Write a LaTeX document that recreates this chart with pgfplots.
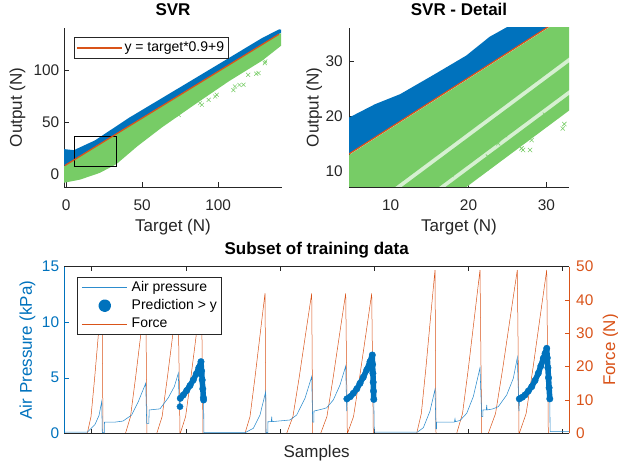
\documentclass[border=0pt]{standalone}
\usepackage{fontspec}
\setmainfont{Liberation Sans}
\usepackage{pgfplots}
\pgfplotsset{compat=1.18}

\definecolor{mblue}{RGB}{0,114,189}
\definecolor{airblue}{RGB}{45,140,205}
\definecolor{morange}{RGB}{217,83,25}
\definecolor{mgreen}{RGB}{119,204,102}
\definecolor{axgray}{RGB}{38,38,38}

\pgfplotsset{
  mat/.style={
    scale only axis, anchor=south west,
    tick align=inside, major tick length=4.5pt,
    axis line style={axgray, line width=0.5pt, -},
    tick style={axgray, line width=0.5pt},
    tick label style={font=\fontsize{15.4}{18}\selectfont, text=axgray},
    label style={font=\fontsize{17}{20}\selectfont, text=axgray},
    title style={font=\bfseries\fontsize{17}{20}\selectfont, text=black},
    /pgf/number format/assume math mode=true,
    legend image code/.code={\draw[##1] (0pt,0pt) -- (45pt,0pt);},
    legend style={font=\fontsize{14}{16}\selectfont, draw=axgray,
      fill=white, inner xsep=2pt, inner ysep=2pt, row sep=1pt,
      nodes={inner sep=2pt, text height=10.2pt, text depth=3pt}},
    legend cell align=left,
  }
}

\begin{document}
\begin{tikzpicture}
\useasboundingbox (0,0) rectangle (618pt,465pt);

% ---------------- SVR (overview) ----------------
\begin{axis}[mat, at={(64pt,278pt)}, width=218pt, height=159pt,
  xmin=-1.5, xmax=142, ymin=-12.6, ymax=141,
  axis x line*=bottom, axis y line*=left,
  xtick={0,50,100}, ytick={0,50,100},
  x tick label style={anchor=north, inner sep=0pt, yshift=-12.5pt},
  y tick label style={anchor=east, inner sep=0pt, xshift=-4.5pt},
  title={SVR}, title style={at={(0.5,1.0767)}, anchor=center},
  xlabel={Target (N)}, xlabel style={at={(0.5,-0.2547)}, anchor=center},
  ylabel={Output (N)}, ylabel style={at={(-0.2133,0.5)}, anchor=center},
  legend style={at={(0.0459,0.9415)}, anchor=north west}]
  % green cloud (output below the line)
  \addplot[fill=mgreen, draw=none, forget plot] coordinates {
    (-1.5,7.4) (141.5,136.1) (141.5,124) (129,109.5) (107,89.5) (85,67.5)
    (63,45) (47,27) (33,9.5) (22,1) (9,-5.5) (-1.5,-8.5)};
  % blue cloud (output above the line)
  \addplot[fill=mblue, draw=none, forget plot] coordinates {
    (-1.5,7.9) (141.5,136.6) (141.5,139.5) (140,139.6) (129,131.4) (107,112)
    (85,92.6) (63,73.3) (41,54) (19,32.5) (5,23) (-1.5,24)};
  \addplot[only marks, mark=x, mark size=2.8pt, mgreen, line width=0.5pt, forget plot] coordinates {
    (74,57) (88,68.4) (89.3,66.8) (93.7,71.6) (98,74.8) (99,76.5) (110,81)
    (111,84.5) (114,86) (116.7,86.2) (119.7,95.8) (125,96.8) (126.6,97.5)
    (130.7,107) (131,108.7)};
  \addplot[black, line width=0.6pt, forget plot] coordinates {
    (5,7.2) (33,7.2) (33,36) (5,36) (5,7.2)};
  \addplot[morange, line width=1.3pt] coordinates {(-1,8.1) (140,135)};
  \addlegendentry{y = target*0.9+9}
\end{axis}

% ---------------- SVR - Detail ----------------
\begin{axis}[mat, at={(349pt,278pt)}, width=220pt, height=159pt,
  xmin=4.65, xmax=32.9, ymin=7.2, ymax=36,
  axis x line*=bottom, axis y line*=left,
  xtick={10,20,30}, ytick={10,20,30},
  x tick label style={anchor=north, inner sep=0pt, yshift=-12.5pt},
  y tick label style={anchor=east, inner sep=0pt, xshift=-6pt},
  title={SVR - Detail}, title style={at={(0.5,1.0767)}, anchor=center},
  xlabel={Target (N)}, xlabel style={at={(0.5,-0.2547)}, anchor=center},
  ylabel={Output (N)}, ylabel style={at={(-0.158,0.5)}, anchor=center}]
  % sparse zone between the bands
  \addplot[fill=mgreen!30!white, draw=none] coordinates {(4,0.3) (34,31.8) (34,22.2) (4,-9.3)};
  % green bands
  \addplot[fill=mgreen, draw=none] coordinates {(4,12.4) (34,39.4) (34,31.8) (4,0.3)};
  \addplot[fill=mgreen, draw=none] coordinates {(4,-0.6) (34,30.9) (34,25.9) (4,-5.6)};
  \addplot[fill=mgreen, draw=none] coordinates {(4,-6.5) (34,25.0) (34,22.2) (4,-9.3)};
  % blue band
  \addplot[fill=mblue, draw=none] coordinates {
    (4,12.6) (34,39.6) (34,40) (30,40) (26,37) (22.7,34.4) (19.7,31)
    (15.5,27.5) (11.2,24) (8,22.2) (4,19.3)};
  \addplot[only marks, mark=x, mark size=3pt, mgreen, line width=0.6pt] coordinates {
    (32.1,17.8) (31.7,20.9) (32.3,18.6) (29.8,20.3) (29.6,18.4) (28.1,15.7)
    (27,13.9) (27.9,13.9) (26.8,14.2) (26.4,18.8) (24.7,16.6) (24.9,13.6)
    (24,13) (23.8,15.1) (23.4,11.8) (22.5,12.7) (22.3,10.6) (22.1,10.9)
    (20.8,10) (20.8,9.1) (20.2,12.1) (19.1,8.2) (17.8,9.4) (16.7,8.5)};
  \addplot[morange, line width=1.3pt] coordinates {(4,12.6) (34,39.6)};
\end{axis}

% ---------------- Subset of training data: right axis (force) ----------------
\begin{axis}[mat, at={(64.3pt,31.7pt)}, width=504.7pt, height=166.6pt,
  xmin=0, xmax=5047, ymin=0, ymax=50,
  axis y line*=right, axis x line=none,
  ytick={0,10,...,50},
  y axis line style={morange}, ytick style={morange},
  y tick label style={text=morange, anchor=west, inner sep=0pt, xshift=7pt},
  ylabel={Force (N)}, ylabel style={text=morange, at={(1.0828,0.5)}, anchor=center}]
  \addplot[morange, line width=0.5pt] coordinates {
    (0,0) (230,0) (267,5) (304,16.8) (340,29.4) (377,42) (387,0)
    (612,0) (662,5) (713,16.8) (764,29.4) (814,42) (827,0)
    (925,0) (978,5) (1031,16.8) (1084,29.4) (1137,42) (1157,0)
    (1160,0) (1213,5) (1266,16.8) (1319,29.4) (1372,42) (1387,0)
    (1807,0) (1857,5) (1907,16.8) (1957,29.4) (2007,42) (2017,0)
    (2224,0) (2286,5) (2349,16.8) (2411,29.4) (2474,42) (2484,0)
    (2564,0) (2626,5) (2689,16.8) (2751,29.4) (2814,42) (2830,0)
    (2832,0) (2892,5) (2953,16.8) (3014,29.4) (3074,42) (3090,0)
    (3524,0) (3570,5.9) (3616,19.6) (3661,34.3) (3707,49) (3717,0)
    (3924,0) (3982,5.9) (4041,19.6) (4099,34.3) (4157,49) (4174,0)
    (4240,0) (4312,5.9) (4385,19.6) (4457,34.3) (4530,49) (4547,0)
    (4550,0) (4618,5.9) (4687,19.6) (4755,34.3) (4824,49) (4840,0)
    (5047,0)};
\end{axis}

% ---------------- Subset of training data: left axis (air pressure) ----------------
\begin{axis}[mat, at={(64.3pt,31.7pt)}, width=504.7pt, height=166.6pt,
  xmin=0, xmax=5047, ymin=0, ymax=15,
  axis y line*=left, axis x line*=box,
  xtick={274,1216,2158,3100,4042,4984}, xticklabels={},
  ytick={0,5,10,15},
  y axis line style={mblue}, ytick style={mblue},
  y tick label style={text=mblue, anchor=east, inner sep=0pt, xshift=-5pt},
  title={Subset of training data}, title style={at={(0.5,1.064)}, anchor=center},
  xlabel={Samples}, xlabel style={at={(0.5,-0.1164)}, anchor=center},
  ylabel={Air Pressure (kPa)}, ylabel style={text=mblue, at={(-0.0729,0.5)}, anchor=center},
  legend style={at={(0.0252,0.94)}, anchor=north west}]
  \addplot[airblue, line width=0.55pt] coordinates {
    (0,0.1) (230,0.1) (307,0.8) (347,1.6) (374,2.85) (380,0.05) (400,0.05)
    (402,1.0) (500,1.0) (587,1.1) (674,1.65) (740,2.85) (814,4.5) (824,0.9)
    (845,0.9) (849,2.1) (957,2.2) (1040,3.2) (1100,4.2) (1140,5.4) (1150,2.4)
    (1157,2.4) (1160,3.15) (1224,3.85) (1290,4.8) (1345,5.9) (1367,6.45)
    (1393,3.0) (1396,0.05) (1807,0.05) (1890,0.45) (1957,1.65) (2014,3.75)
    (2017,0.05) (2035,0.05) (2037,1.05) (2070,1.05) (2074,1.5) (2078,1.05)
    (2257,1.2) (2324,1.65) (2407,3.15) (2474,5.1) (2484,1.0) (2495,1.0)
    (2497,2.0) (2587,2.2) (2624,2.3) (2690,3.0) (2757,4.35) (2814,6.05)
    (2824,2.0) (2830,3.1) (2890,3.6) (2957,4.5) (3024,5.7) (3057,6.45)
    (3080,7.05) (3095,3.05) (3100,0.1) (3530,0.1) (3590,0.5) (3657,2.0)
    (3707,3.95) (3717,0.4) (3722,0.4) (3724,1.0) (3900,1.0) (3907,1.3)
    (3912,1.05) (3957,1.15) (4024,1.8) (4090,3.3) (4157,5.9) (4174,1.5)
    (4185,1.5) (4187,2.1) (4220,2.1) (4224,2.55) (4228,2.1) (4287,2.2)
    (4340,2.4) (4424,3.45) (4490,4.95) (4530,6.8) (4547,2.0) (4552,3.1)
    (4607,3.45) (4674,4.2) (4740,5.4) (4790,6.75) (4824,7.65) (4855,3.1)
    (4858,0.15) (5047,0.15)};
  \addlegendentry{Air pressure}
  \addplot[mblue, line width=5.5pt, line cap=round, line join=round,
    mark=*, mark size=3.3pt, mark options={line width=0.3pt, fill=mblue},
    legend image code/.code={\path (0pt,0pt) (45pt,0pt);
      \fill[mblue] (22.8pt,0pt) circle (3.6pt);}] coordinates {
    (1160,3.15) (1190,3.45) (1224,3.85) (1257,4.3) (1290,4.8) (1320,5.35)
    (1345,5.9) (1367,6.45) (1373,5.6) (1379,4.8) (1385,4.0) (1391,3.2) (1393,3.0)};
  \addlegendentry{Prediction > y}
  \addplot[mblue, line width=5.5pt, line cap=round, line join=round, forget plot,
    mark=*, mark size=3.3pt, mark options={line width=0.3pt, fill=mblue}] coordinates {
    (2826,3.1) (2860,3.3) (2890,3.6) (2925,4.0) (2957,4.5) (2990,5.05)
    (3024,5.7) (3057,6.45) (3080,7.05) (3083,6.2) (3086,5.4) (3089,4.6)
    (3092,3.8) (3095,3.05)};
  \addplot[mblue, line width=5.5pt, line cap=round, line join=round, forget plot,
    mark=*, mark size=3.3pt, mark options={line width=0.3pt, fill=mblue}] coordinates {
    (4550,3.1) (4580,3.25) (4607,3.45) (4640,3.8) (4674,4.2) (4707,4.75)
    (4740,5.4) (4765,6.05) (4790,6.75) (4808,7.2) (4824,7.65) (4830,6.8)
    (4836,5.9) (4842,5.0) (4848,4.1) (4855,3.1)};
  \addplot[only marks, mark=*, mark size=3.1pt, mblue, forget plot] coordinates {(1157,2.4)};
  \addlegendimage{morange, line width=0.5pt}
  \addlegendentry{Force}
\end{axis}
\end{tikzpicture}
\end{document}
